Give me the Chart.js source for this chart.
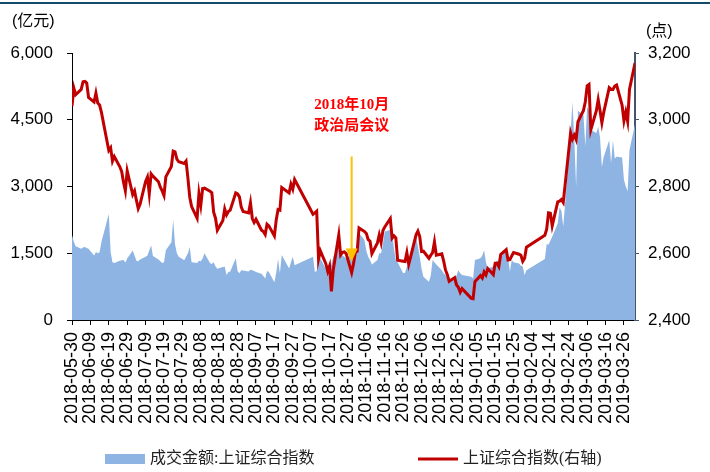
<!DOCTYPE html>
<html>
<head>
<meta charset="utf-8">
<script src="https://cdn.jsdelivr.net/npm/chart.js@4.4.0/dist/chart.umd.min.js"></script>
<style>
  html, body { margin: 0; padding: 0; background: #fff; }
  #wrap { width: 710px; height: 472px; }
</style>
</head>
<body>
<div id="wrap"><canvas id="chart" width="710" height="472"></canvas></div>
<script>
/* ------------------------------- Data -------------------------------*/

var tradeDates = [
    '2018-05-29', '2018-05-30', '2018-05-31',
    '2018-06-01', '2018-06-04', '2018-06-05', '2018-06-06', '2018-06-07', '2018-06-08', '2018-06-11', '2018-06-12', '2018-06-13', '2018-06-14', '2018-06-15',
    '2018-06-19', '2018-06-20', '2018-06-21', '2018-06-22', '2018-06-25', '2018-06-26', '2018-06-27', '2018-06-28', '2018-06-29',
    '2018-07-02', '2018-07-03', '2018-07-04', '2018-07-05', '2018-07-06', '2018-07-09', '2018-07-10', '2018-07-11', '2018-07-12', '2018-07-13',
    '2018-07-16', '2018-07-17', '2018-07-18', '2018-07-19', '2018-07-20', '2018-07-23', '2018-07-24', '2018-07-25', '2018-07-26', '2018-07-27',
    '2018-07-30', '2018-07-31',
    '2018-08-01', '2018-08-02', '2018-08-03', '2018-08-06', '2018-08-07', '2018-08-08', '2018-08-09', '2018-08-10', '2018-08-13', '2018-08-14',
    '2018-08-15', '2018-08-16', '2018-08-17', '2018-08-20', '2018-08-21', '2018-08-22', '2018-08-23', '2018-08-24', '2018-08-27', '2018-08-28',
    '2018-08-29', '2018-08-30', '2018-08-31',
    '2018-09-03', '2018-09-04', '2018-09-05', '2018-09-06', '2018-09-07', '2018-09-10', '2018-09-11', '2018-09-12', '2018-09-13', '2018-09-14',
    '2018-09-17', '2018-09-18', '2018-09-19', '2018-09-20', '2018-09-21', '2018-09-25', '2018-09-26', '2018-09-27', '2018-09-28',
    '2018-10-08', '2018-10-09', '2018-10-10', '2018-10-11', '2018-10-12', '2018-10-15', '2018-10-16', '2018-10-17', '2018-10-18', '2018-10-19',
    '2018-10-22', '2018-10-23', '2018-10-24', '2018-10-25', '2018-10-26', '2018-10-29', '2018-10-30', '2018-10-31',
    '2018-11-01', '2018-11-02', '2018-11-05', '2018-11-06', '2018-11-07', '2018-11-08', '2018-11-09', '2018-11-12', '2018-11-13', '2018-11-14',
    '2018-11-15', '2018-11-16', '2018-11-19', '2018-11-20', '2018-11-21', '2018-11-22', '2018-11-23', '2018-11-26', '2018-11-27', '2018-11-28',
    '2018-11-29', '2018-11-30',
    '2018-12-03', '2018-12-04', '2018-12-05', '2018-12-06', '2018-12-07', '2018-12-10', '2018-12-11', '2018-12-12', '2018-12-13', '2018-12-14',
    '2018-12-17', '2018-12-18', '2018-12-19', '2018-12-20', '2018-12-21', '2018-12-24', '2018-12-25', '2018-12-26', '2018-12-27', '2018-12-28',
    '2019-01-02', '2019-01-03', '2019-01-04', '2019-01-07', '2019-01-08', '2019-01-09', '2019-01-10', '2019-01-11', '2019-01-14', '2019-01-15',
    '2019-01-16', '2019-01-17', '2019-01-18', '2019-01-21', '2019-01-22', '2019-01-23', '2019-01-24', '2019-01-25', '2019-01-28', '2019-01-29',
    '2019-01-30', '2019-01-31',
    '2019-02-01', '2019-02-11', '2019-02-12', '2019-02-13', '2019-02-14', '2019-02-15', '2019-02-18', '2019-02-19', '2019-02-20', '2019-02-21',
    '2019-02-22', '2019-02-25', '2019-02-26', '2019-02-27', '2019-02-28',
    '2019-03-01', '2019-03-04', '2019-03-05', '2019-03-06', '2019-03-07', '2019-03-08', '2019-03-11', '2019-03-12', '2019-03-13', '2019-03-14',
    '2019-03-15', '2019-03-18', '2019-03-19', '2019-03-20', '2019-03-21', '2019-03-22', '2019-03-25', '2019-03-26', '2019-03-27', '2019-03-28',
    '2019-03-29', '2019-04-01'
];

// 上证综合指数 收盘 (点)
var indexClose = [
    3120, 3041, 3095,
    3075, 3091, 3114, 3115, 3110, 3067, 3053, 3080, 3050, 3044, 3022,
    2908, 2916, 2876, 2890, 2859, 2845, 2813, 2787, 2847,
    2776, 2787, 2759, 2734, 2747, 2815, 2828, 2778, 2838, 2831,
    2814, 2798, 2787, 2773, 2829, 2860, 2906, 2904, 2882, 2874,
    2869, 2876,
    2825, 2768, 2740, 2705, 2779, 2744, 2794, 2795, 2786, 2781,
    2723, 2705, 2669, 2698, 2733, 2715, 2725, 2729, 2781, 2778,
    2769, 2738, 2725,
    2721, 2751, 2704, 2692, 2702, 2669, 2665, 2656, 2687, 2682,
    2652, 2700, 2731, 2729, 2797, 2781, 2807, 2792, 2821,
    2717, 2721, 2726, 2583, 2607, 2568, 2546, 2562, 2486, 2550,
    2655, 2595, 2603, 2604, 2599, 2542, 2568, 2603,
    2606, 2676, 2665, 2659, 2641, 2636, 2599, 2631, 2655, 2632,
    2668, 2679, 2704, 2645, 2652, 2646, 2579, 2576, 2575, 2602,
    2567, 2588,
    2655, 2666, 2650, 2605, 2606, 2585, 2594, 2602, 2634, 2594,
    2598, 2577, 2550, 2536, 2516, 2527, 2505, 2498, 2483, 2494,
    2465, 2464, 2515, 2533, 2526, 2544, 2535, 2554, 2536, 2570,
    2570, 2560, 2596, 2611, 2580, 2581, 2592, 2602, 2597, 2594,
    2576, 2585,
    2618, 2654, 2672, 2721, 2720, 2682, 2754, 2756, 2761, 2752,
    2804, 2961, 2942, 2954, 2941,
    2994, 3028, 3054, 3102, 3106, 2970, 3027, 3060, 3027, 2991,
    3022, 3096, 3091, 3091, 3101, 3104, 3043, 2997, 3023, 2995,
    3091, 3170
];

// 成交金额:上证综合指数 (亿元)
var turnover = [
    1900, 1910, 1760,
    1660, 1600, 1630, 1640, 1620, 1600, 1450, 1530, 1500, 1520, 1760,
    2380, 1530, 1300, 1280, 1330, 1340, 1350, 1290, 1380,
    1560, 1450, 1330, 1320, 1360, 1420, 1450, 1560, 1680, 1440,
    1360, 1320, 1280, 1300, 1570, 1750, 2260, 1700, 1500, 1420,
    1340, 1420,
    1500, 1640, 1300, 1280, 1330, 1320, 1380, 1500, 1280, 1260,
    1300, 1200, 1150, 1190, 1200, 1010, 1080, 1090, 1390, 1100,
    1050, 1120, 1110,
    1090, 1130, 1120, 1100, 1080, 1040, 990, 930, 1100, 1080,
    850, 1060, 1370, 1050, 1460, 1160, 1300, 1420, 1230,
    1420, 1080, 1100, 1450, 1380, 1150, 1200, 1150, 1250, 1420,
    1700, 1600, 1450, 1420, 1380, 1480, 1520, 1450,
    1700, 1950, 1800, 1550, 1420, 1350, 1250, 1350, 1500, 1500,
    1700, 1990, 2020, 1950, 1600, 1350, 1300, 1050, 1060, 1200,
    1250, 1350,
    1890, 1650, 1420, 1150, 970, 860, 1000, 1350, 1300, 1250,
    1120, 1050, 1010, 950, 900, 930, 1000, 1120, 1050, 1010,
    970, 930, 1350, 1390, 1450, 1570, 1300, 1160, 1200, 1270,
    1350, 1300, 1400, 1570, 1420, 1090, 1350, 1300, 1270, 1220,
    1200, 1010,
    1120, 1370, 1710, 1690, 1780, 1870, 2170, 2530, 2450, 2100,
    2600, 4200, 4900, 4070, 3000,
    4700, 4600, 3900, 4790, 4700, 4270, 4200, 4340, 4100, 3440,
    3670, 4040, 3520, 4040, 3630, 3670, 3650, 3150, 3000, 2900,
    3820, 4400
];

var xTickLabels = [
    '2018-05-30', '2018-06-09', '2018-06-19', '2018-06-29', '2018-07-09', '2018-07-19', '2018-07-29', '2018-08-08',
    '2018-08-18', '2018-08-28', '2018-09-07', '2018-09-17', '2018-09-27', '2018-10-07', '2018-10-17', '2018-10-27',
    '2018-11-06', '2018-11-16', '2018-11-26', '2018-12-06', '2018-12-16', '2018-12-26', '2019-01-05', '2019-01-15',
    '2019-01-25', '2019-02-04', '2019-02-14', '2019-02-24', '2019-03-06', '2019-03-16', '2019-03-26'
];

var seriesNames = ['成交金额:上证综合指数', '上证综合指数(右轴)'];
var noteLines = ['2018年10月', '政治局会议'];
var noteDate = '2018-10-29';

/* ------------------------------- Helpers -------------------------------*/

var baseTime = toTime(xTickLabels[0]);

function toTime(dateStr) {
    return Date.UTC(+dateStr.slice(0, 4), +dateStr.slice(5, 7) - 1, +dateStr.slice(8, 10));
}

function dayOffset(dateStr) {                                   // дні від першої мітки осі
    return Math.round((toTime(dateStr) - baseTime) / 86400000);
}

function toPoints(values) {
    var points = [];
    for (let i = 0; i < values.length; i++) {
        points.push({ x: dayOffset(tradeDates[i]), y: values[i] });
    }
    return points;
}

function thousands(value) {
    return Number(value).toLocaleString('en-US');
}

var sansCJK = '"Liberation Sans", "Noto Sans CJK SC", sans-serif';
var serifCJK = '"Liberation Serif", "Noto Sans CJK SC", serif';

/* ------------------------------- Extras -------------------------------*/

var extrasPlugin = {
    id: 'extras',
    afterDraw: function (chart) {
        var ctx = chart.ctx;
        var xs = chart.scales.x;
        var yr = chart.scales.y1;

        ctx.save();
        // верхня лінія
        ctx.fillStyle = '#124a6b';
        ctx.fillRect(0, 2, chart.width, 2);

        // підписи осей
        ctx.fillStyle = '#000';
        ctx.font = '16px ' + sansCJK;
        ctx.textBaseline = 'middle';
        ctx.textAlign = 'left';
        ctx.fillText('(亿元)', 12, 22);
        ctx.fillText('(点)', 646, 32);

        // стрілка та примітка
        var ax = xs.getPixelForValue(dayOffset(noteDate));
        var yTop = yr.getPixelForValue(2890);
        var yTip = yr.getPixelForValue(2575);
        ctx.strokeStyle = '#FFC000';
        ctx.fillStyle = '#FFC000';
        ctx.lineWidth = 2;
        ctx.beginPath();
        ctx.moveTo(ax, yTop);
        ctx.lineTo(ax, yTip - 10);
        ctx.stroke();
        ctx.beginPath();
        ctx.moveTo(ax - 6, yTip - 13);
        ctx.lineTo(ax + 6, yTip - 13);
        ctx.lineTo(ax, yTip);
        ctx.closePath();
        ctx.fill();

        ctx.fillStyle = '#FF0000';
        ctx.font = 'bold 15px ' + serifCJK;
        ctx.textAlign = 'center';
        ctx.fillText(noteLines[0], ax, yr.getPixelForValue(3045));
        ctx.fillText(noteLines[1], ax, yr.getPixelForValue(2980));

        // легенда
        var ds = chart.data.datasets;
        var ly = 459;
        ctx.fillStyle = ds[1].backgroundColor;
        ctx.fillRect(105, ly - 5, 40, 10);
        ctx.strokeStyle = ds[0].borderColor;
        ctx.lineWidth = 3;
        ctx.beginPath();
        ctx.moveTo(418, ly);
        ctx.lineTo(458, ly);
        ctx.stroke();

        ctx.fillStyle = '#222';
        ctx.font = '16px ' + serifCJK;
        ctx.textAlign = 'left';
        ctx.fillText(ds[1].label, 150, ly);
        ctx.fillText(ds[0].label, 463, ly);
        ctx.restore();
    }
};

/* ------------------------------- Chart -------------------------------*/

Chart.defaults.font.family = '"Liberation Sans", Arial, sans-serif';
Chart.defaults.font.size = 17;
Chart.defaults.color = '#000';

new Chart(document.getElementById('chart').getContext('2d'), {
    type: 'line',
    data: {
        datasets: [{
            label: seriesNames[1],
            data: toPoints(indexClose),
            yAxisID: 'y1',
            borderColor: '#C00000',
            borderWidth: 3,
            pointRadius: 0,
            fill: false,
            tension: 0,
            order: 0
        }, {
            label: seriesNames[0],
            data: toPoints(turnover),
            yAxisID: 'y',
            borderWidth: 0,
            borderColor: 'rgba(0,0,0,0)',
            backgroundColor: '#8EB4E3',
            pointRadius: 0,
            fill: 'origin',
            tension: 0,
            order: 1
        }]
    },
    options: {
        responsive: false,
        animation: false,
        layout: { padding: { top: 53, left: 0, right: 0, bottom: 0 } },
        plugins: {
            legend: { display: false },
            tooltip: { enabled: false }
        },
        scales: {
            x: {
                type: 'linear',
                min: 0,
                max: 306,
                border: { color: '#000', width: 1 },
                grid: { drawOnChartArea: false, tickLength: 5, color: '#000' },
                ticks: {
                    stepSize: 10,
                    includeBounds: false,
                    autoSkip: false,
                    minRotation: 90,
                    maxRotation: 90,
                    padding: 7,
                    font: { size: 18 },
                    callback: function (value) { return xTickLabels[Math.round(value / 10)]; }
                },
                afterFit: function (scale) { scale.height = 152; }
            },
            y: {
                position: 'left',
                min: 0,
                max: 6000,
                border: { color: '#000', width: 1 },
                grid: { drawOnChartArea: false, tickLength: 5, color: '#000' },
                ticks: { stepSize: 1500, padding: 14, callback: thousands },
                afterFit: function (scale) { scale.width = 72; }
            },
            y1: {
                position: 'right',
                min: 2400,
                max: 3200,
                border: { color: '#44546A', width: 2 },
                grid: { drawOnChartArea: false, tickLength: 4, color: '#44546A' },
                ticks: { stepSize: 200, padding: 9, callback: thousands },
                afterFit: function (scale) { scale.width = 75; }
            }
        }
    },
    plugins: [extrasPlugin]
});
</script>
</body>
</html>
